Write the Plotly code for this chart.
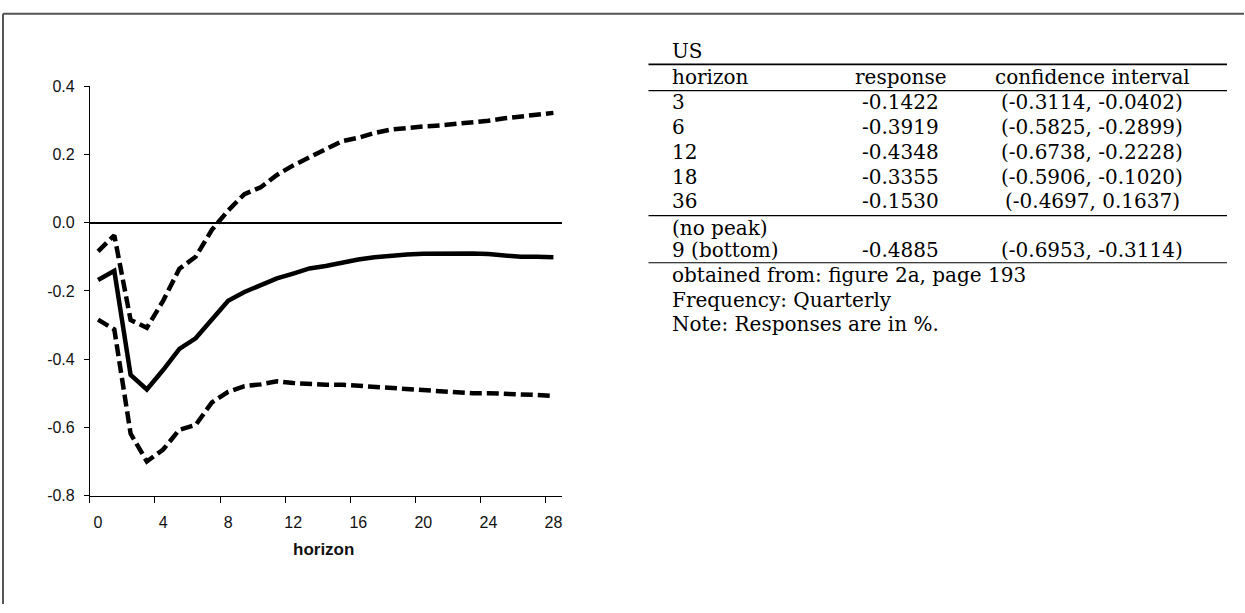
import plotly.graph_objects as go

# ---------------- data ----------------
horizon = list(range(29))
response = [-0.168, -0.141, -0.446, -0.489, -0.432, -0.370, -0.339, -0.284, -0.229, -0.203,
            -0.184, -0.163, -0.149, -0.134, -0.127, -0.116, -0.108, -0.101, -0.096, -0.093,
            -0.091, -0.090, -0.089, -0.090, -0.092, -0.097, -0.100, -0.100, -0.101]
upper = [-0.084, -0.037, -0.285, -0.308, -0.229, -0.135, -0.100, -0.021, 0.036, 0.084,
         0.104, 0.140, 0.168, 0.192, 0.216, 0.239, 0.249, 0.263, 0.273, 0.279,
         0.282, 0.285, 0.289, 0.295, 0.299, 0.306, 0.311, 0.319, 0.322]
lower = [-0.284, -0.313, -0.618, -0.700, -0.665, -0.607, -0.593, -0.527, -0.496, -0.479,
         -0.474, -0.465, -0.470, -0.473, -0.475, -0.475, -0.478, -0.481, -0.484, -0.489,
         -0.492, -0.494, -0.497, -0.500, -0.500, -0.501, -0.503, -0.505, -0.508]

x_tick_vals = [0, 4, 8, 12, 16, 20, 24, 28]
x_tick_text = ["0", "4", "8", "12", "16", "20", "24", "28"]
y_tick_vals = [-0.8, -0.6, -0.4, -0.2, 0.0, 0.2, 0.4]
y_tick_text = ["-0.8", "-0.6", "-0.4", "-0.2", "0.0", "0.2", "0.4"]
x_title = "horizon"

table_country = "US"
table_header = ["horizon", "response", "confidence interval"]
table_horizons = ["3", "6", "12", "18", "36"]
table_responses = ["-0.1422", "-0.3919", "-0.4348", "-0.3355", "-0.1530"]
table_cis = ["(-0.3114, -0.0402)", "(-0.5825, -0.2899)", "(-0.6738, -0.2228)",
             "(-0.5906, -0.1020)", "(-0.4697, 0.1637)"]
peak_row = ["(no peak)", "", ""]
bottom_row = ["9 (bottom)", "-0.4885", "(-0.6953, -0.3114)"]
notes = ["obtained from: figure 2a, page 193", "Frequency: Quarterly", "Note: Responses are in %."]

# ---------------- layout helpers ----------------
W, H = 1245, 613
def px(x):
    return x / W
def py(y):
    return 1 - y / H

fig = go.Figure()
dash_style = dict(color="black", width=4.5, dash="12px,5px")
fig.add_trace(go.Scatter(x=horizon, y=upper, mode="lines", line=dash_style, hoverinfo="skip"))
fig.add_trace(go.Scatter(x=horizon, y=lower, mode="lines", line=dash_style, hoverinfo="skip"))
fig.add_trace(go.Scatter(x=horizon, y=response, mode="lines",
                         line=dict(color="black", width=4.5), hoverinfo="skip"))

tick_font = dict(family="Liberation Sans, Arial", size=16, color="#111")
fig.update_layout(
    width=W, height=H,
    margin=dict(l=0, r=0, t=0, b=0),
    paper_bgcolor="white", plot_bgcolor="white",
    showlegend=False,
)
fig.update_xaxes(
    domain=[px(90), px(562)], range=[-0.5, 28.5],
    tickmode="array", tickvals=x_tick_vals, ticktext=x_tick_text, ticks="",
    showline=True, linecolor="black", linewidth=1, showgrid=False, zeroline=False,
    minor=dict(tickmode="array", tickvals=[v - 0.5 for v in x_tick_vals], ticks="outside",
               ticklen=6, tickcolor="black", tickwidth=1, showgrid=False),
    tickfont=tick_font, ticklabelstandoff=12,
)
fig.update_yaxes(
    domain=[py(501.5), py(80.5)], range=[-0.8, 0.4],
    tickmode="array", tickvals=y_tick_vals, ticktext=y_tick_text,
    ticks="outside", ticklen=5, tickcolor="black", tickwidth=1,
    showline=True, linecolor="black", linewidth=1, showgrid=False,
    zeroline=True, zerolinecolor="black", zerolinewidth=2,
    tickfont=tick_font, ticklabelstandoff=6,
)

annotations = []
shapes = []

annotations.append(dict(text="<b>%s</b>" % x_title, x=px(324), y=py(557), xref="paper", yref="paper",
                        showarrow=False, xanchor="center", yanchor="middle",
                        font=dict(family="Liberation Sans, Arial", size=17, color="#111")))

# frame
shapes.append(dict(type="line", xref="paper", yref="paper", x0=px(3), x1=1, y0=py(6), y1=py(6),
                   line=dict(color="#555", width=2)))
shapes.append(dict(type="line", xref="paper", yref="paper", x0=px(3), x1=px(3), y0=0, y1=py(6),
                   line=dict(color="#555", width=2)))

# table
tf = dict(family="DejaVu Serif, serif", size=20, color="black")
rule_x0, rule_x1 = 649, 1228
col1_x, col2_x, col3_x = 671, 901, 1093

def add_text(txt, x, y, anchor):
    if txt == "":
        return
    annotations.append(dict(text=txt, x=px(x), y=py(y), xref="paper", yref="paper",
                            showarrow=False, xanchor=anchor, yanchor="middle", font=tf))

def add_rule(y, w):
    shapes.append(dict(type="line", xref="paper", yref="paper", x0=px(rule_x0), x1=px(rule_x1),
                       y0=py(y), y1=py(y), line=dict(color="black", width=w)))

add_text(table_country, col1_x, 44, "left")
add_rule(58, 1.6)
add_text(table_header[0], col1_x, 71, "left")
add_text(table_header[1], col2_x, 71, "center")
add_text(table_header[2], col3_x, 71, "center")
add_rule(85, 1.2)
row_y = [97, 122.5, 148, 173.5, 199]
for h, r, c, y in zip(table_horizons, table_responses, table_cis, row_y):
    add_text(h, col1_x, y, "left")
    add_text(r, col2_x, y, "center")
    add_text(c, col3_x, y, "center")
add_rule(213.5, 1.2)
for row, y in [(peak_row, 226.5), (bottom_row, 249)]:
    add_text(row[0], col1_x, y, "left")
    add_text(row[1], col2_x, y, "center")
    add_text(row[2], col3_x, y, "center")
add_rule(262, 1.2)
for t, y in zip(notes, [275, 300, 325]):
    add_text(t, col1_x, y, "left")

fig.update_layout(annotations=annotations, shapes=shapes)
fig.write_html("out.html", config={"displayModeBar": False},
               post_script="document.body.style.margin='0px';document.body.style.overflow='hidden';")
